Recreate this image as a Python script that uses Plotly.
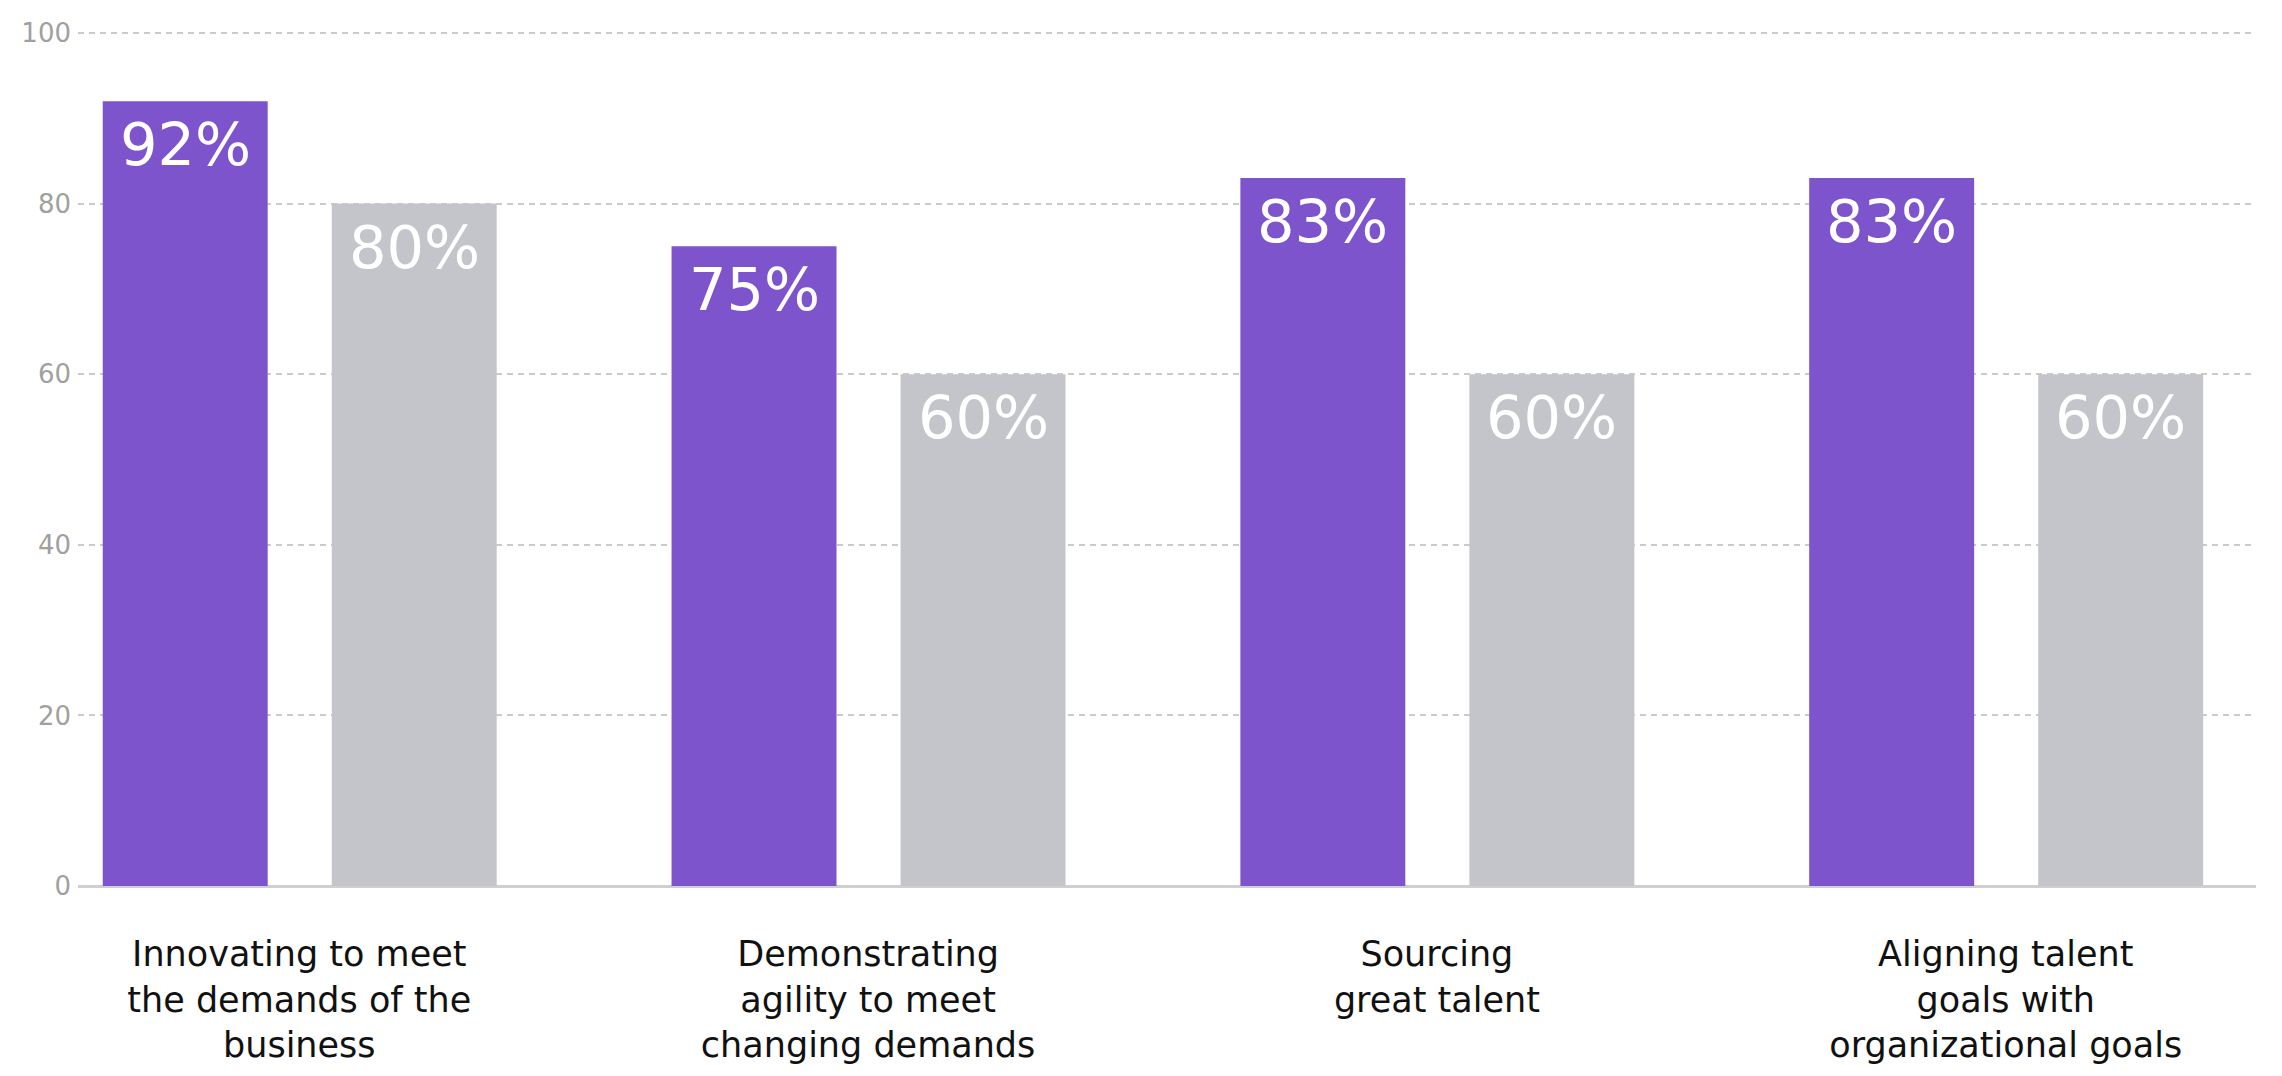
import plotly.graph_objects as go

categories = [
    "Innovating to meet<br>the demands of the<br>business",
    "Demonstrating<br>agility to meet<br>changing demands",
    "Sourcing<br>great talent",
    "Aligning talent<br>goals with<br>organizational goals",
]
purple_values = [92, 75, 83, 83]
grey_values = [80, 60, 60, 60]
y_ticks = [0, 20, 40, 60, 80, 100]

PURPLE = "#7E54CD"
GREY = "#C4C5CA"
FONT = "DejaVu Sans"

x_pos = list(range(len(categories)))
bar_w = 0.29
off_p = -0.3455
off_g = 0.0571

fig = go.Figure()
fig.add_trace(go.Bar(x=x_pos, y=purple_values, width=bar_w, offset=off_p,
                     marker=dict(color=PURPLE, line=dict(width=0)), name="A", hoverinfo="y"))
fig.add_trace(go.Bar(x=x_pos, y=grey_values, width=bar_w, offset=off_g,
                     marker=dict(color=GREY, line=dict(width=0)), name="B", hoverinfo="y"))

annotations = []
for xs, vals, off in ((x_pos, purple_values, off_p), (x_pos, grey_values, off_g)):
    for xi, v in zip(xs, vals):
        annotations.append(dict(
            x=xi + off + bar_w / 2, y=v, xref="x", yref="y",
            text=f"{v}%", showarrow=False, yanchor="top", xanchor="center",
            yshift=-7, font=dict(family=FONT, size=59, color="white")))

fig.update_layout(
    width=2282, height=1076,
    margin=dict(l=78, r=26, t=30, b=190),
    paper_bgcolor="white", plot_bgcolor="white",
    barmode="overlay", showlegend=False,
    annotations=annotations,
    xaxis=dict(
        range=[-0.389, 3.44], tickvals=x_pos, ticktext=categories,
        showgrid=False, zeroline=False, showline=False, ticks="",
        tickfont=dict(family=FONT, size=35, color="#111111"),
        ticklabelstandoff=44,
    ),
    yaxis=dict(
        range=[0, 100.35], tickvals=y_ticks, ticks="",
        showgrid=True, gridcolor="#CBCBCB", gridwidth=2, griddash="6px,5px",
        zeroline=True, zerolinecolor="#CFCFCF", zerolinewidth=3,
        showline=False,
        tickfont=dict(family=FONT, size=26, color="#A0A0A0"),
        ticklabelstandoff=6,
    ),
)

fig.write_html("out.html")
